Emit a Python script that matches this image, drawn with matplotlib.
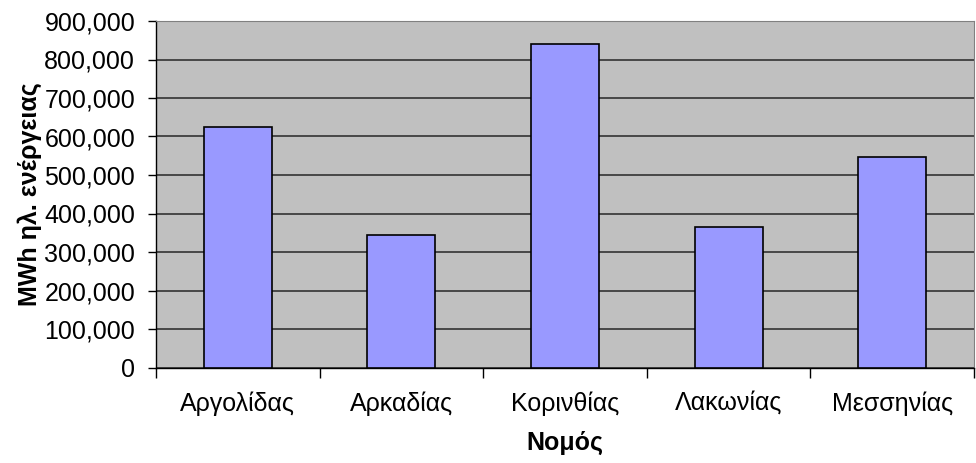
import matplotlib
matplotlib.use("Agg")
import matplotlib.pyplot as plt
from matplotlib.ticker import FuncFormatter, FixedLocator
import numpy as np

categories = ["Αργολίδας", "Αρκαδίας", "Κορινθίας", "Λακωνίας", "Μεσσηνίας"]
values = [625000, 345000, 840000, 365000, 546000]
yticks = [0, 100000, 200000, 300000, 400000, 500000, 600000, 700000, 800000, 900000]

plt.rcParams['font.family'] = ['Liberation Sans', 'DejaVu Sans']

fig = plt.figure(figsize=(9.76, 4.63), dpi=100)
ax = fig.add_axes([156/976, (463-367.5)/463, (974-156)/976, (367.5-21)/463])
ax.set_facecolor('#C0C0C0')

x = np.arange(len(categories))
ax.bar(x, values, width=0.415, color='#9999FF', edgecolor='black', linewidth=1.2, zorder=3)

ax.set_xlim(-0.5, len(categories) - 0.5)
ax.set_ylim(0, 900000)
ax.set_yticks(yticks)
ax.yaxis.set_major_formatter(FuncFormatter(lambda v, p: f"{int(v):,}"))
ax.yaxis.grid(True, color='#333333', linewidth=1.2, zorder=1)
ax.set_axisbelow(True)

ax.set_xticks(x)
ax.set_xticklabels(categories, fontsize=18)
ax.tick_params(axis='x', which='major', length=0, pad=17)
ax.xaxis.set_minor_locator(FixedLocator(np.arange(-0.5, len(categories), 1.0)))
ax.tick_params(axis='x', which='minor', length=7, width=1, direction='out')
ax.tick_params(axis='y', labelsize=18, length=6, width=1, direction='out', pad=9)

for s in ['top', 'right']:
    ax.spines[s].set_color('#808080')
for s in ['left', 'bottom']:
    ax.spines[s].set_color('black')
    ax.spines[s].set_linewidth(1)

ax.set_xlabel("Νομός", fontsize=18, fontweight='bold', labelpad=11)
ax.set_ylabel("MWh ηλ. ενέργειας", fontsize=18, fontweight='bold')
ax.yaxis.set_label_coords(-(156 - 42) / 818, 0.5)

fig.savefig("out.png", dpi=100)
